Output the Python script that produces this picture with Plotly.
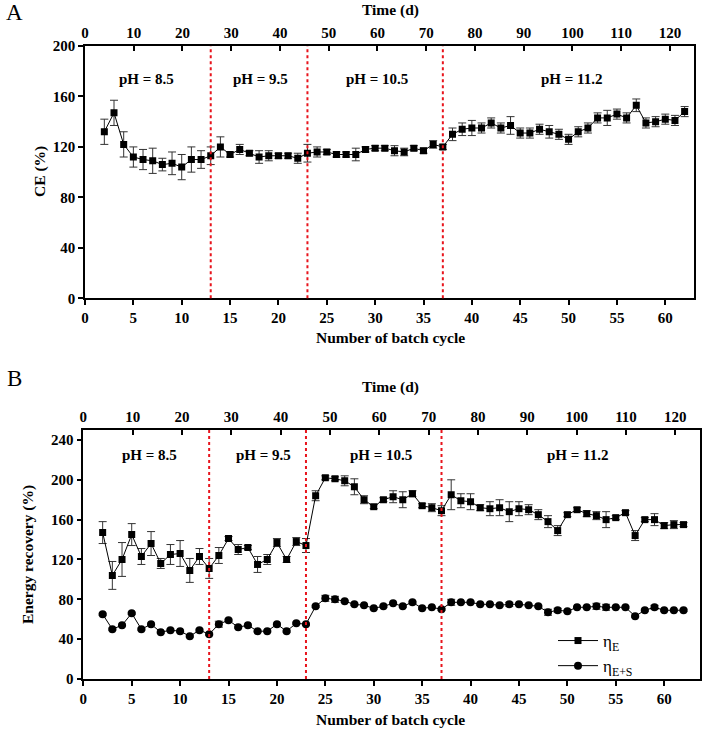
import plotly.graph_objects as go

# ---------------- data ----------------
cycles = list(range(2, 63))

ce = [132, 147, 122, 112, 110, 109, 106, 107, 104, 110,
      110, 113, 120, 114, 118, 115, 112, 113, 113, 113,
      111, 115, 116, 116, 114, 114, 114, 118, 119, 119,
      117, 116, 119, 117, 122, 120, 130, 134, 135, 135,
      139, 135, 137, 131, 131, 134, 132, 130, 126, 132,
      135, 143, 143, 146, 143, 153, 139, 140, 142, 141,
      148]
ce_err = [10, 10, 10, 8, 8, 10, 5, 9, 10, 10,
          7, 7, 8, 2, 4, 2, 5, 4, 2, 2,
          4, 7, 4, 2, 2, 2, 5, 2, 2, 2,
          4, 3, 2, 2, 3, 2, 5, 5, 6, 4,
          4, 4, 7, 4, 4, 4, 5, 4, 4, 4,
          4, 4, 6, 4, 4, 5, 4, 4, 4, 4,
          4]

eta_e = [147, 104, 120, 145, 123, 136, 116, 125, 126, 109,
         123, 111, 124, 141, 130, 132, 115, 120, 137, 120,
         138, 134, 184, 202, 201, 199, 193, 180, 173, 180,
         183, 180, 186, 174, 172, 169, 185, 179, 178, 172,
         171, 172, 168, 171, 170, 165, 158, 149, 165, 170,
         166, 164, 160, 162, 167, 144, 160, 160, 154, 155,
         155]
eta_e_err = [11, 14, 17, 11, 8, 12, 5, 10, 13, 12,
             8, 10, 8, 2, 5, 2, 8, 5, 4, 3,
             4, 7, 5, 2, 2, 5, 8, 4, 2, 2,
             6, 8, 3, 2, 4, 5, 15, 7, 8, 3,
             7, 8, 10, 7, 5, 5, 6, 5, 2, 2,
             3, 4, 8, 2, 2, 5, 2, 6, 3, 4,
             2]

eta_es = [65, 50, 54, 66, 50, 55, 47, 49, 48, 43,
          49, 45, 55, 59, 52, 54, 48, 48, 55, 48,
          56, 55, 73, 81, 80, 78, 75, 74, 71, 73,
          76, 73, 77, 71, 72, 70, 77, 77, 77, 75,
          75, 74, 75, 75, 74, 73, 67, 69, 68, 72,
          72, 73, 72, 72, 72, 63, 69, 72, 69, 69,
          69]
eta_es_err = [1, 1, 1, 1, 1, 1, 1, 1, 1, 1,
              1, 1, 3, 1, 1, 1, 1, 1, 1, 1,
              1, 1, 1, 3, 3, 1, 1, 1, 1, 1,
              1, 1, 1, 1, 1, 1, 3, 1, 1, 1,
              1, 1, 2, 1, 1, 1, 3, 2, 1, 1,
              1, 3, 3, 1, 1, 1, 1, 2, 1, 1,
              1]

boundaries = [13, 23, 37]
ph_labels = ["pH = 8.5", "pH = 9.5", "pH = 10.5", "pH = 11.2"]
ph_pos_a = [6.4, 18.1, 30.2, 50.3]
ph_pos_b = [6.8, 18.6, 30.8, 51.0]

# ---------------- styling ----------------
FONT = "Liberation Serif"
W, H = 703, 729
A_x = [85 / W, 694.3 / W]
A_y = [1 - 298.3 / H, 1 - 46 / H]
B_x = [83.3 / W, 700 / W]
B_y = [1 - 679 / H, 1 - 430 / H]

tickfont = dict(family=FONT, size=15, color="black", weight="bold")
err_style = dict(type="data", thickness=1, width=4, color="#333333")

fig = go.Figure()

fig.add_trace(go.Scatter(
    x=cycles, y=ce, mode="lines+markers", xaxis="x", yaxis="y",
    line=dict(color="black", width=1),
    marker=dict(symbol="square", size=7, color="black"),
    error_y=dict(array=ce_err, **err_style), showlegend=False))

fig.add_trace(go.Scatter(
    x=cycles, y=eta_e, mode="lines+markers", xaxis="x3", yaxis="y2",
    name="η<sub>E</sub>",
    line=dict(color="black", width=1),
    marker=dict(symbol="square", size=7, color="black"),
    error_y=dict(array=eta_e_err, **err_style)))

fig.add_trace(go.Scatter(
    x=cycles, y=eta_es, mode="lines+markers", xaxis="x3", yaxis="y2",
    name="η<sub>E+S</sub>",
    line=dict(color="black", width=1),
    marker=dict(symbol="circle", size=8, color="black"),
    error_y=dict(array=eta_es_err, **err_style)))

# empty traces so the top (time) axes are drawn
fig.add_trace(go.Scatter(x=[], y=[], xaxis="x2", yaxis="y", showlegend=False))
fig.add_trace(go.Scatter(x=[], y=[], xaxis="x4", yaxis="y2", showlegend=False))

axis_common = dict(showline=True, linecolor="black", linewidth=1.6, showgrid=False,
                   zeroline=False, tickfont=tickfont, ticklen=5, tickwidth=1.5,
                   tickcolor="black", automargin=False)

fig.update_layout(
    width=W, height=H,
    margin=dict(l=0, r=0, t=0, b=0),
    paper_bgcolor="white", plot_bgcolor="white",
    font=dict(family=FONT, color="black"),
    xaxis=dict(domain=A_x, anchor="y", range=[0, 63], tickmode="linear", tick0=0, dtick=5,
               ticks="outside", **axis_common),
    xaxis2=dict(domain=A_x, anchor="y", overlaying="x", side="top", range=[0, 125],
                tickmode="linear", tick0=0, dtick=10, ticks="inside", **axis_common),
    yaxis=dict(domain=A_y, anchor="x", range=[0, 200], tickmode="linear", tick0=0, dtick=40,
               ticks="outside", mirror=True, **axis_common),
    xaxis3=dict(domain=B_x, anchor="y2", range=[0, 63.7], tickmode="linear", tick0=0, dtick=5,
                ticks="outside", **axis_common),
    xaxis4=dict(domain=B_x, anchor="y2", overlaying="x3", side="top", range=[0, 125],
                tickmode="linear", tick0=0, dtick=10, ticks="inside", **axis_common),
    yaxis2=dict(domain=B_y, anchor="x3", range=[0, 250], tickmode="linear", tick0=0, dtick=40,
                ticks="outside", mirror=True, **axis_common),
    legend=dict(x=553 / W, y=1 - 623 / H, xanchor="left", yanchor="top",
                font=dict(family=FONT, size=17, color="black"),
                bgcolor="rgba(0,0,0,0)", tracegroupgap=0, itemwidth=40),
)

shapes = []
for b in boundaries:
    shapes.append(dict(type="line", xref="x", yref="y domain", x0=b, x1=b, y0=0, y1=1,
                       line=dict(color="#e8141c", width=2, dash="dot")))
    shapes.append(dict(type="line", xref="x3", yref="y2 domain", x0=b, x1=b, y0=0, y1=1,
                       line=dict(color="#e8141c", width=2, dash="dot")))
fig.update_layout(shapes=shapes)

ann = []
lbl_font = dict(family=FONT, size=15, color="black", weight="bold")
for t, p in zip(ph_labels, ph_pos_a):
    ann.append(dict(x=p, y=174, xref="x", yref="y", text=t, showarrow=False,
                    font=lbl_font, xanchor="center", yanchor="middle"))
for t, p in zip(ph_labels, ph_pos_b):
    ann.append(dict(x=p, y=225, xref="x3", yref="y2", text=t, showarrow=False,
                    font=lbl_font, xanchor="center", yanchor="middle"))

title_font = dict(family=FONT, size=15.5, color="black", weight="bold")


def paper_text(px, py, text, font, angle=0):
    return dict(x=px / W, y=1 - py / H, xref="paper", yref="paper", text=text,
                showarrow=False, font=font, textangle=angle,
                xanchor="center", yanchor="middle")


letter_font = dict(family=FONT, size=23, color="black")
ann += [
    paper_text(390, 10, "Time (d)", title_font),
    paper_text(390, 337, "Number of batch cycle", title_font),
    paper_text(40, 172, "CE (%)", title_font, -90),
    paper_text(390, 387, "Time (d)", title_font),
    paper_text(390, 719, "Number of batch cycle", title_font),
    paper_text(28, 555, "Energy recovery (%)", title_font, -90),
    paper_text(14, 13, "A", letter_font),
    paper_text(14, 378, "B", letter_font),
]
fig.update_layout(annotations=ann)

fig.write_html("out.html", config={"displayModeBar": False},
               post_script="document.body.style.margin='0px';")
